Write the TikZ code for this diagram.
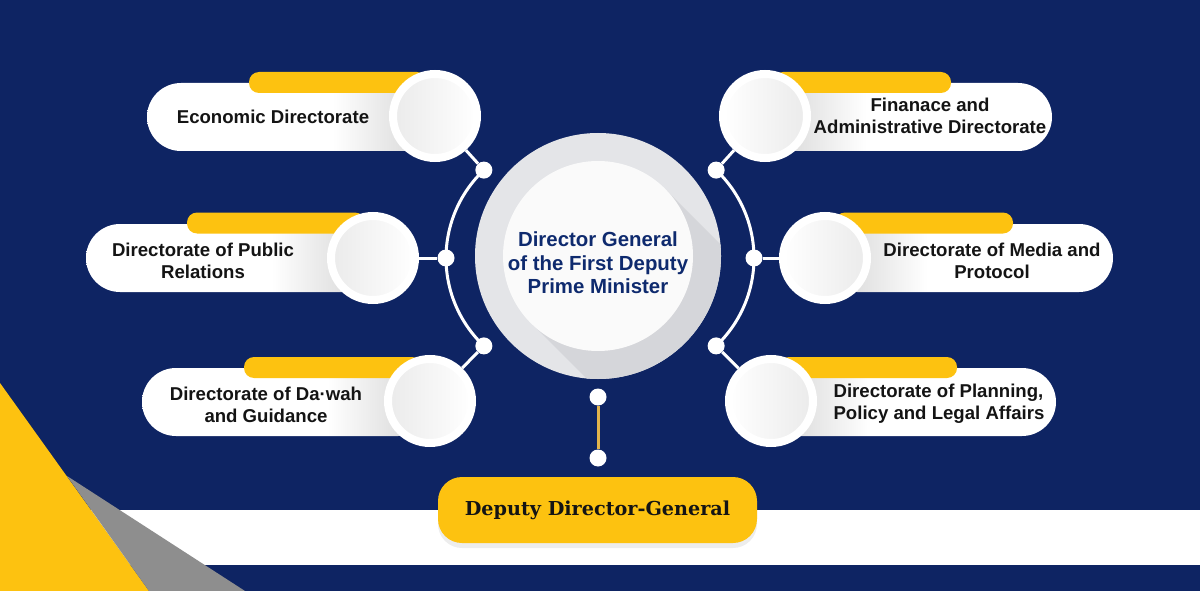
\documentclass[tikz,border=0pt]{standalone}
\usepackage{fontspec}
\setmainfont{Liberation Sans}
\newfontfamily\deputyfont{DejaVu Serif}
\usepackage{xcolor}
\usepackage{tikz}
\usetikzlibrary{positioning, calc, shadows}
\definecolor{navy}{HTML}{0E2463}
\definecolor{gold}{HTML}{FDC210}
\definecolor{goldline}{HTML}{E2B44C}
\definecolor{ink}{HTML}{141414}
\definecolor{hubink}{HTML}{0E2A6E}
\definecolor{ringgray}{HTML}{E4E5E8}
\definecolor{shadegray}{HTML}{D5D6DA}
\definecolor{cone}{HTML}{8E8E8E}
\pgfdeclarehorizontalshading{pillfadeL}{100bp}{color(0bp)=(white); color(57bp)=(white); color(75bp)=(gray!36); color(100bp)=(gray!36)}
\pgfdeclarehorizontalshading{pillfadeR}{100bp}{color(0bp)=(gray!36); color(25bp)=(gray!36); color(43bp)=(white); color(100bp)=(white)}
\tikzset{
    pill/.style={rectangle, rounded corners=34pt, minimum width=290pt, minimum height=68pt, inner sep=0pt},
    pillL/.style={pill, shading=pillfadeL},
    pillR/.style={pill, shading=pillfadeR},
    bar/.style={rectangle, rounded corners=10pt, fill=gold, minimum height=21pt, minimum width=178pt, inner sep=0pt},
    ringL/.style={circle, minimum size=84pt, inner sep=0pt, draw=white, line width=8pt, left color=gray!16, right color=white},
    ringR/.style={circle, minimum size=84pt, inner sep=0pt, draw=white, line width=8pt, left color=white, right color=gray!16},
    deptext/.style={align=center, text=ink, inner sep=0pt, font=\bfseries\fontsize{18.6}{22}\selectfont},
    dot/.style={circle, fill=white, minimum size=17pt, inner sep=0pt},
    link/.style={white, line width=3pt},
}

\begin{document}
\begin{tikzpicture}[x=1pt, y=-1pt,
      deputy/.style={rectangle, rounded corners=24pt, fill=gold, minimum width=319pt, minimum height=66pt,
                     text=ink, font=\deputyfont\bfseries\fontsize{19.2}{22}\selectfont,
                     drop shadow={shadow xshift=0pt, shadow yshift=-5pt, opacity=0.07, fill=black}},
      goldlink/.style={goldline, line width=3pt}
    ]

    % background
    \fill[navy] (0,0) rectangle (1200,591);
    \fill[white] (0,510) rectangle (1200,565);
    \fill[gold] (0,383) -- (149,591) -- (0,591) -- cycle;
    \fill[cone] (67,476) -- (245,591) -- (149,591) -- cycle;

    % central circle
    \node[circle, fill=ringgray, minimum size=246pt, inner sep=0pt] (chief) at (598,256) {};
    \begin{scope}
      \clip (chief.center) circle[radius=123];
      \fill[shadegray] (531,323) -- (665,189) -- (900,424) -- (766,558) -- cycle;
    \end{scope}
    \node[circle, fill=white!96!gray, minimum size=190pt, inner sep=0pt] (chiefDisc) at (598,256) {};
    \node[align=center, text=hubink, font=\bfseries\fontsize{20.4}{23.5}\selectfont] (chiefText) at (598,263)
          {Director General\\of the First Deputy\\Prime Minister};

    % left side
    \node[pillL] (boxEco) at (292,117) {};
    \node[pillL] (boxPub) at (231,258) {};
    \node[pillL] (boxDaw) at (287,402) {};
    \node[bar] (barEco) at (338,82.5) {};
    \node[bar] (barPub) at (276,223) {};
    \node[bar] (barDaw) at (333,367.5) {};
    \node[ringL] (ringEco) at (435,116) {};
    \node[ringL] (ringPub) at (373,258) {};
    \node[ringL] (ringDaw) at (430,401) {};

    % right side
    \node[pillR] (boxFin) at (907,117) {};
    \node[pillR] (boxMed) at (968,258) {};
    \node[pillR] (boxPla) at (911,402) {};
    \node[bar] (barFin) at (862,82.5) {};
    \node[bar] (barMed) at (924,223) {};
    \node[bar] (barPla) at (868,367.5) {};
    \node[ringR] (ringFin) at (765,116) {};
    \node[ringR] (ringMed) at (825,258) {};
    \node[ringR] (ringPla) at (771,401) {};

    % labels
    \node[deptext] (txtEco) at (273,117) {Economic Directorate};
    \node[deptext] (txtPub) at (203,261) {Directorate of Public\\Relations};
    \node[deptext] (txtDaw) at (266,405) {Directorate of Da·wah\\and Guidance};
    \node[deptext] (txtFin) at (930,116) {Finanace and\\Administrative Directorate};
    \node[deptext] (txtMed) at (992,261) {Directorate of Media and\\Protocol};
    \node[deptext, align=left] (txtPla) at (939,404) {Directorate of Planning,\\Policy and Legal Affairs};

    % joints on the two arcs
    \coordinate (hubL) at (567,258);
    \coordinate (hubR) at (633,258);
    \node[dot] (dotEco) at ([shift={(226.6:121)}]hubL) {};
    \node[dot] (dotPub) at ([shift={(180:121)}]hubL) {};
    \node[dot] (dotDaw) at ([shift={(133.4:121)}]hubL) {};
    \node[dot] (dotFin) at ([shift={(-46.6:121)}]hubR) {};
    \node[dot] (dotMed) at ([shift={(0:121)}]hubR) {};
    \node[dot] (dotPla) at ([shift={(46.6:121)}]hubR) {};

    \draw[link] (dotEco.center) arc[start angle=226.6, end angle=133.4, radius=121];
    \draw[link] (dotFin.center) arc[start angle=-46.6, end angle=46.6, radius=121];
    \draw[link] (dotEco) -- (ringEco);
    \draw[link] (dotPub) -- (ringPub);
    \draw[link] (dotDaw) -- (ringDaw);
    \draw[link] (dotFin) -- (ringFin);
    \draw[link] (dotMed) -- (ringMed);
    \draw[link] (dotPla) -- (ringPla);

    % deputy
    \node[deputy] (deputy) at (597.5,510) {Deputy Director-General};
    \node[dot] (dotTop) at (598,397) {};
    \node[dot] (dotBot) at (598,458) {};
    \draw[goldlink] (dotTop) -- (dotBot);

    \end{tikzpicture}
\end{document}
